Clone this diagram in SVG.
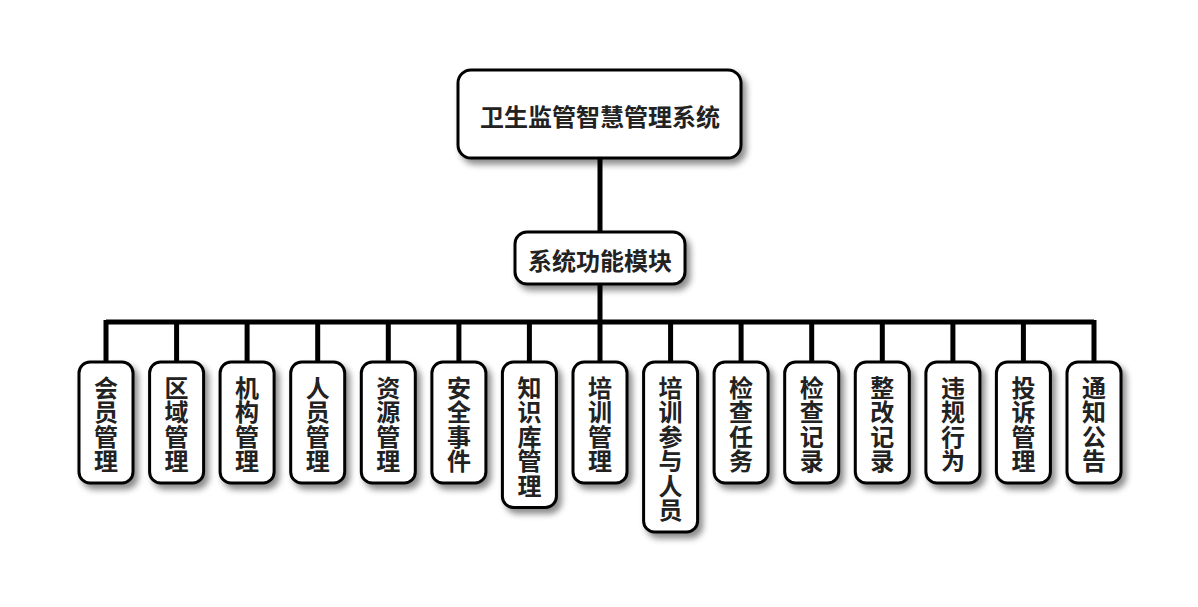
<svg xmlns="http://www.w3.org/2000/svg" width="1198" height="607" viewBox="0 0 1198 607">
<defs>
<filter id="sh" x="-30%" y="-30%" width="160%" height="160%">
<feDropShadow dx="4" dy="5" stdDeviation="3" flood-color="#000" flood-opacity="0.45"/>
</filter>
<style>
.box{fill:#fff;stroke:#000;stroke-width:3;filter:url(#sh)}
.t{font-family:"Noto Sans CJK SC","Noto Sans",sans-serif;font-weight:bold;font-size:24px;fill:#222;text-anchor:middle;dominant-baseline:central}
.c{stroke:#000;stroke-width:5;fill:none}
</style>
</defs>
<rect width="1198" height="607" fill="#fff"/>
<g id="connectors">
<path class="c" d="M600 158V232M600 284V322M106 322H1094"/>
<path class="c" d="M106 320V362M176.6 320V362M247.1 320V362M317.7 320V362M388.3 320V362M458.9 320V362M529.4 320V362M600 320V362M670.6 320V362M741.1 320V362M811.7 320V362M882.3 320V362M952.9 320V362M1023.4 320V362M1094 320V362"/>
</g>
<g id="root"><rect class="box" x="458" y="70" width="283" height="88" rx="13"/><text class="t" x="600" y="115">卫生监管智慧管理系统</text></g>
<g id="modules"><rect class="box" x="515" y="232" width="170" height="52" rx="12"/><text class="t" x="600" y="259">系统功能模块</text></g>
<g id="n1"><rect class="box" x="79" y="362" width="54" height="121" rx="11"/><text class="t"><tspan x="106" y="385.8">会</tspan><tspan x="106" y="410.3">员</tspan><tspan x="106" y="434.8">管</tspan><tspan x="106" y="459.3">理</tspan></text></g>
<g id="n2"><rect class="box" x="149.6" y="362" width="54" height="121" rx="11"/><text class="t"><tspan x="176.6" y="385.8">区</tspan><tspan x="176.6" y="410.3">域</tspan><tspan x="176.6" y="434.8">管</tspan><tspan x="176.6" y="459.3">理</tspan></text></g>
<g id="n3"><rect class="box" x="220.1" y="362" width="54" height="121" rx="11"/><text class="t"><tspan x="247.1" y="385.8">机</tspan><tspan x="247.1" y="410.3">构</tspan><tspan x="247.1" y="434.8">管</tspan><tspan x="247.1" y="459.3">理</tspan></text></g>
<g id="n4"><rect class="box" x="290.7" y="362" width="54" height="121" rx="11"/><text class="t"><tspan x="317.7" y="385.8">人</tspan><tspan x="317.7" y="410.3">员</tspan><tspan x="317.7" y="434.8">管</tspan><tspan x="317.7" y="459.3">理</tspan></text></g>
<g id="n5"><rect class="box" x="361.3" y="362" width="54" height="121" rx="11"/><text class="t"><tspan x="388.3" y="385.8">资</tspan><tspan x="388.3" y="410.3">源</tspan><tspan x="388.3" y="434.8">管</tspan><tspan x="388.3" y="459.3">理</tspan></text></g>
<g id="n6"><rect class="box" x="431.9" y="362" width="54" height="121" rx="11"/><text class="t"><tspan x="458.9" y="385.8">安</tspan><tspan x="458.9" y="410.3">全</tspan><tspan x="458.9" y="434.8">事</tspan><tspan x="458.9" y="459.3">件</tspan></text></g>
<g id="n7"><rect class="box" x="502.4" y="362" width="54" height="145.5" rx="11"/><text class="t"><tspan x="529.4" y="385.8">知</tspan><tspan x="529.4" y="410.3">识</tspan><tspan x="529.4" y="434.8">库</tspan><tspan x="529.4" y="459.3">管</tspan><tspan x="529.4" y="483.8">理</tspan></text></g>
<g id="n8"><rect class="box" x="573" y="362" width="54" height="121" rx="11"/><text class="t"><tspan x="600" y="385.8">培</tspan><tspan x="600" y="410.3">训</tspan><tspan x="600" y="434.8">管</tspan><tspan x="600" y="459.3">理</tspan></text></g>
<g id="n9"><rect class="box" x="643.6" y="362" width="54" height="170" rx="11"/><text class="t"><tspan x="670.6" y="385.8">培</tspan><tspan x="670.6" y="410.3">训</tspan><tspan x="670.6" y="434.8">参</tspan><tspan x="670.6" y="459.3">与</tspan><tspan x="670.6" y="483.8">人</tspan><tspan x="670.6" y="508.3">员</tspan></text></g>
<g id="n10"><rect class="box" x="714.1" y="362" width="54" height="121" rx="11"/><text class="t"><tspan x="741.1" y="385.8">检</tspan><tspan x="741.1" y="410.3">查</tspan><tspan x="741.1" y="434.8">任</tspan><tspan x="741.1" y="459.3">务</tspan></text></g>
<g id="n11"><rect class="box" x="784.7" y="362" width="54" height="121" rx="11"/><text class="t"><tspan x="811.7" y="385.8">检</tspan><tspan x="811.7" y="410.3">查</tspan><tspan x="811.7" y="434.8">记</tspan><tspan x="811.7" y="459.3">录</tspan></text></g>
<g id="n12"><rect class="box" x="855.3" y="362" width="54" height="121" rx="11"/><text class="t"><tspan x="882.3" y="385.8">整</tspan><tspan x="882.3" y="410.3">改</tspan><tspan x="882.3" y="434.8">记</tspan><tspan x="882.3" y="459.3">录</tspan></text></g>
<g id="n13"><rect class="box" x="925.9" y="362" width="54" height="121" rx="11"/><text class="t"><tspan x="952.9" y="385.8">违</tspan><tspan x="952.9" y="410.3">规</tspan><tspan x="952.9" y="434.8">行</tspan><tspan x="952.9" y="459.3">为</tspan></text></g>
<g id="n14"><rect class="box" x="996.4" y="362" width="54" height="121" rx="11"/><text class="t"><tspan x="1023.4" y="385.8">投</tspan><tspan x="1023.4" y="410.3">诉</tspan><tspan x="1023.4" y="434.8">管</tspan><tspan x="1023.4" y="459.3">理</tspan></text></g>
<g id="n15"><rect class="box" x="1067" y="362" width="54" height="121" rx="11"/><text class="t"><tspan x="1094" y="385.8">通</tspan><tspan x="1094" y="410.3">知</tspan><tspan x="1094" y="434.8">公</tspan><tspan x="1094" y="459.3">告</tspan></text></g>
</svg>
